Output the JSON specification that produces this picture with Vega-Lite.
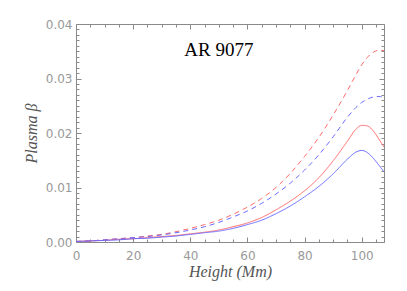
{
  "$schema": "https://vega.github.io/schema/vega-lite/v6.json",
  "width": 308,
  "height": 218,
  "autosize": {"type": "none"},
  "padding": {"left": 76, "top": 24, "right": 23, "bottom": 49},
  "background": "white",
  "config": {"view": {"stroke": "#8a8a8a", "strokeWidth": 1}, "axis": {"grid": false, "domain": false, "tickColor": "#8a8a8a", "tickWidth": 1}},
  "data": {"values": [
    {"h":0,"b":0.0001,"s":"red dashed"},{"h":5,"b":0.0002,"s":"red dashed"},{"h":10,"b":0.0004,"s":"red dashed"},{"h":15,"b":0.0006,"s":"red dashed"},{"h":20,"b":0.0008,"s":"red dashed"},{"h":25,"b":0.0011,"s":"red dashed"},{"h":30,"b":0.0014,"s":"red dashed"},{"h":35,"b":0.0019,"s":"red dashed"},{"h":40,"b":0.0025,"s":"red dashed"},{"h":45,"b":0.0032,"s":"red dashed"},{"h":50,"b":0.0040,"s":"red dashed"},{"h":55,"b":0.0051,"s":"red dashed"},{"h":60,"b":0.0064,"s":"red dashed"},{"h":65,"b":0.0080,"s":"red dashed"},{"h":70,"b":0.0100,"s":"red dashed"},{"h":75,"b":0.0126,"s":"red dashed"},{"h":80,"b":0.0157,"s":"red dashed"},{"h":85,"b":0.0192,"s":"red dashed"},{"h":90,"b":0.0233,"s":"red dashed"},{"h":95,"b":0.0278,"s":"red dashed"},{"h":98,"b":0.0307,"s":"red dashed"},{"h":100,"b":0.0325,"s":"red dashed"},{"h":102,"b":0.0339,"s":"red dashed"},{"h":104,"b":0.0348,"s":"red dashed"},{"h":106,"b":0.0352,"s":"red dashed"},{"h":107.8,"b":0.0351,"s":"red dashed"},
    {"h":0,"b":0.0001,"s":"blue dashed"},{"h":5,"b":0.0002,"s":"blue dashed"},{"h":10,"b":0.0004,"s":"blue dashed"},{"h":15,"b":0.0006,"s":"blue dashed"},{"h":20,"b":0.0008,"s":"blue dashed"},{"h":25,"b":0.0010,"s":"blue dashed"},{"h":30,"b":0.0013,"s":"blue dashed"},{"h":35,"b":0.0017,"s":"blue dashed"},{"h":40,"b":0.0022,"s":"blue dashed"},{"h":45,"b":0.0028,"s":"blue dashed"},{"h":50,"b":0.0036,"s":"blue dashed"},{"h":55,"b":0.0046,"s":"blue dashed"},{"h":60,"b":0.0057,"s":"blue dashed"},{"h":65,"b":0.0071,"s":"blue dashed"},{"h":70,"b":0.0088,"s":"blue dashed"},{"h":75,"b":0.0108,"s":"blue dashed"},{"h":80,"b":0.0132,"s":"blue dashed"},{"h":85,"b":0.0160,"s":"blue dashed"},{"h":90,"b":0.0193,"s":"blue dashed"},{"h":95,"b":0.0229,"s":"blue dashed"},{"h":98,"b":0.0247,"s":"blue dashed"},{"h":100,"b":0.0256,"s":"blue dashed"},{"h":102,"b":0.0262,"s":"blue dashed"},{"h":104,"b":0.0266,"s":"blue dashed"},{"h":106,"b":0.0267,"s":"blue dashed"},{"h":107.8,"b":0.0265,"s":"blue dashed"},
    {"h":0,"b":0.0001,"s":"red solid"},{"h":5,"b":0.0002,"s":"red solid"},{"h":10,"b":0.0003,"s":"red solid"},{"h":15,"b":0.0005,"s":"red solid"},{"h":20,"b":0.0006,"s":"red solid"},{"h":25,"b":0.0008,"s":"red solid"},{"h":30,"b":0.0010,"s":"red solid"},{"h":35,"b":0.0012,"s":"red solid"},{"h":40,"b":0.0015,"s":"red solid"},{"h":45,"b":0.0018,"s":"red solid"},{"h":50,"b":0.0022,"s":"red solid"},{"h":55,"b":0.0028,"s":"red solid"},{"h":60,"b":0.0035,"s":"red solid"},{"h":65,"b":0.0045,"s":"red solid"},{"h":70,"b":0.0059,"s":"red solid"},{"h":75,"b":0.0075,"s":"red solid"},{"h":80,"b":0.0094,"s":"red solid"},{"h":85,"b":0.0118,"s":"red solid"},{"h":90,"b":0.0149,"s":"red solid"},{"h":95,"b":0.0185,"s":"red solid"},{"h":98,"b":0.0207,"s":"red solid"},{"h":100,"b":0.0214,"s":"red solid"},{"h":102,"b":0.0213,"s":"red solid"},{"h":104,"b":0.0204,"s":"red solid"},{"h":106,"b":0.0189,"s":"red solid"},{"h":107.8,"b":0.0174,"s":"red solid"},
    {"h":0,"b":0.0001,"s":"blue solid"},{"h":5,"b":0.0002,"s":"blue solid"},{"h":10,"b":0.0003,"s":"blue solid"},{"h":15,"b":0.0004,"s":"blue solid"},{"h":20,"b":0.0006,"s":"blue solid"},{"h":25,"b":0.0007,"s":"blue solid"},{"h":30,"b":0.0009,"s":"blue solid"},{"h":35,"b":0.0011,"s":"blue solid"},{"h":40,"b":0.0014,"s":"blue solid"},{"h":45,"b":0.0017,"s":"blue solid"},{"h":50,"b":0.0020,"s":"blue solid"},{"h":55,"b":0.0025,"s":"blue solid"},{"h":60,"b":0.0032,"s":"blue solid"},{"h":65,"b":0.0040,"s":"blue solid"},{"h":70,"b":0.0052,"s":"blue solid"},{"h":75,"b":0.0066,"s":"blue solid"},{"h":80,"b":0.0083,"s":"blue solid"},{"h":85,"b":0.0102,"s":"blue solid"},{"h":90,"b":0.0125,"s":"blue solid"},{"h":95,"b":0.0152,"s":"blue solid"},{"h":98,"b":0.0165,"s":"blue solid"},{"h":100,"b":0.0168,"s":"blue solid"},{"h":102,"b":0.0164,"s":"blue solid"},{"h":104,"b":0.0154,"s":"blue solid"},{"h":106,"b":0.0141,"s":"blue solid"},{"h":107.8,"b":0.0129,"s":"blue solid"}
  ]},
  "layer": [
    {
      "mark": {"type": "line", "strokeWidth": 1, "interpolate": "monotone", "clip": true},
      "encoding": {
        "x": {"field": "h", "type": "quantitative", "scale": {"domain": [0, 107.8], "nice": false, "zero": false},
          "axis": {"orient": "bottom", "values": [0, 20, 40, 60, 80, 100], "ticks": false, "labelColor": "#999999", "labelFont": "DejaVu Sans", "labelFontSize": 12, "labelPadding": 8, "labelFlush": false, "title": "Height (Mm)", "titleFont": "Liberation Serif", "titleFontStyle": "italic", "titleFontWeight": "normal", "titleFontSize": 16, "titleColor": "#555555", "titlePadding": 2, "titleLetterSpacing": 0.4}},
        "y": {"field": "b", "type": "quantitative", "scale": {"domain": [0, 0.04], "nice": false, "zero": false},
          "axis": {"orient": "left", "values": [0, 0.01, 0.02, 0.03, 0.04], "format": ".2f", "ticks": false, "labelColor": "#999999", "labelFont": "DejaVu Sans", "labelFontSize": 12, "labelPadding": 4, "labelFlush": false, "title": "Plasma β", "titleFont": "Liberation Serif", "titleFontStyle": "italic", "titleFontWeight": "normal", "titleFontSize": 16, "titleColor": "#555555", "titlePadding": 6, "titleLetterSpacing": 2}},
        "color": {"field": "s", "type": "nominal", "scale": {"domain": ["red dashed", "blue dashed", "red solid", "blue solid"], "range": ["#ff6a6a", "#6a6aff", "#ff6a6a", "#6a6aff"]}, "legend": null},
        "strokeDash": {"field": "s", "type": "nominal", "scale": {"domain": ["red dashed", "blue dashed", "red solid", "blue solid"], "range": [[5, 4], [5, 4], [1, 0], [1, 0]]}, "legend": null}
      }
    },
    {
      "mark": {"type": "point", "opacity": 0},
      "encoding": {
        "x": {"field": "h", "type": "quantitative", "scale": {"domain": [0, 107.8], "nice": false, "zero": false},
          "axis": {"orient": "bottom", "values": [0, 20, 40, 60, 80, 100], "ticks": true, "tickSize": -5, "labels": false, "title": null}},
        "y": {"field": "b", "type": "quantitative", "scale": {"domain": [0, 0.04], "nice": false, "zero": false},
          "axis": {"orient": "left", "values": [0, 0.01, 0.02, 0.03, 0.04], "ticks": true, "tickSize": -5, "labels": false, "title": null}}
      }
    },
    {
      "mark": {"type": "point", "opacity": 0},
      "encoding": {
        "x": {"field": "h", "type": "quantitative", "scale": {"domain": [0, 107.8], "nice": false, "zero": false},
          "axis": {"orient": "bottom", "values": [5, 10, 15, 25, 30, 35, 45, 50, 55, 65, 70, 75, 85, 90, 95, 105], "ticks": true, "tickSize": -3, "labels": false, "title": null}},
        "y": {"field": "b", "type": "quantitative", "scale": {"domain": [0, 0.04], "nice": false, "zero": false},
          "axis": {"orient": "left", "values": [0.001, 0.002, 0.003, 0.004, 0.005, 0.006, 0.007, 0.008, 0.009, 0.011, 0.012, 0.013, 0.014, 0.015, 0.016, 0.017, 0.018, 0.019, 0.021, 0.022, 0.023, 0.024, 0.025, 0.026, 0.027, 0.028, 0.029, 0.031, 0.032, 0.033, 0.034, 0.035, 0.036, 0.037, 0.038, 0.039], "ticks": true, "tickSize": -3, "labels": false, "title": null}}
      }
    },
    {
      "mark": {"type": "point", "opacity": 0},
      "encoding": {
        "x": {"field": "h", "type": "quantitative", "scale": {"domain": [0, 107.8], "nice": false, "zero": false},
          "axis": {"orient": "top", "values": [0, 20, 40, 60, 80, 100], "ticks": true, "tickSize": -5, "labels": false, "title": null}},
        "y": {"field": "b", "type": "quantitative", "scale": {"domain": [0, 0.04], "nice": false, "zero": false},
          "axis": {"orient": "right", "values": [0, 0.01, 0.02, 0.03, 0.04], "ticks": true, "tickSize": -5, "labels": false, "title": null}}
      }
    },
    {
      "mark": {"type": "point", "opacity": 0},
      "encoding": {
        "x": {"field": "h", "type": "quantitative", "scale": {"domain": [0, 107.8], "nice": false, "zero": false},
          "axis": {"orient": "top", "values": [5, 10, 15, 25, 30, 35, 45, 50, 55, 65, 70, 75, 85, 90, 95, 105], "ticks": true, "tickSize": -3, "labels": false, "title": null}},
        "y": {"field": "b", "type": "quantitative", "scale": {"domain": [0, 0.04], "nice": false, "zero": false},
          "axis": {"orient": "right", "values": [0.001, 0.002, 0.003, 0.004, 0.005, 0.006, 0.007, 0.008, 0.009, 0.011, 0.012, 0.013, 0.014, 0.015, 0.016, 0.017, 0.018, 0.019, 0.021, 0.022, 0.023, 0.024, 0.025, 0.026, 0.027, 0.028, 0.029, 0.031, 0.032, 0.033, 0.034, 0.035, 0.036, 0.037, 0.038, 0.039], "ticks": true, "tickSize": -3, "labels": false, "title": null}}
      }
    },
    {
      "data": {"values": [{"label": "AR 9077"}]},
      "mark": {"type": "text", "font": "Liberation Serif", "fontSize": 19, "color": "black", "align": "center", "baseline": "middle"},
      "encoding": {
        "text": {"field": "label", "type": "nominal"},
        "x": {"datum": 50, "type": "quantitative", "axis": null},
        "y": {"datum": 0.0352, "type": "quantitative", "axis": null}
      }
    }
  ],
  "resolve": {"axis": {"x": "independent", "y": "independent"}}
}
